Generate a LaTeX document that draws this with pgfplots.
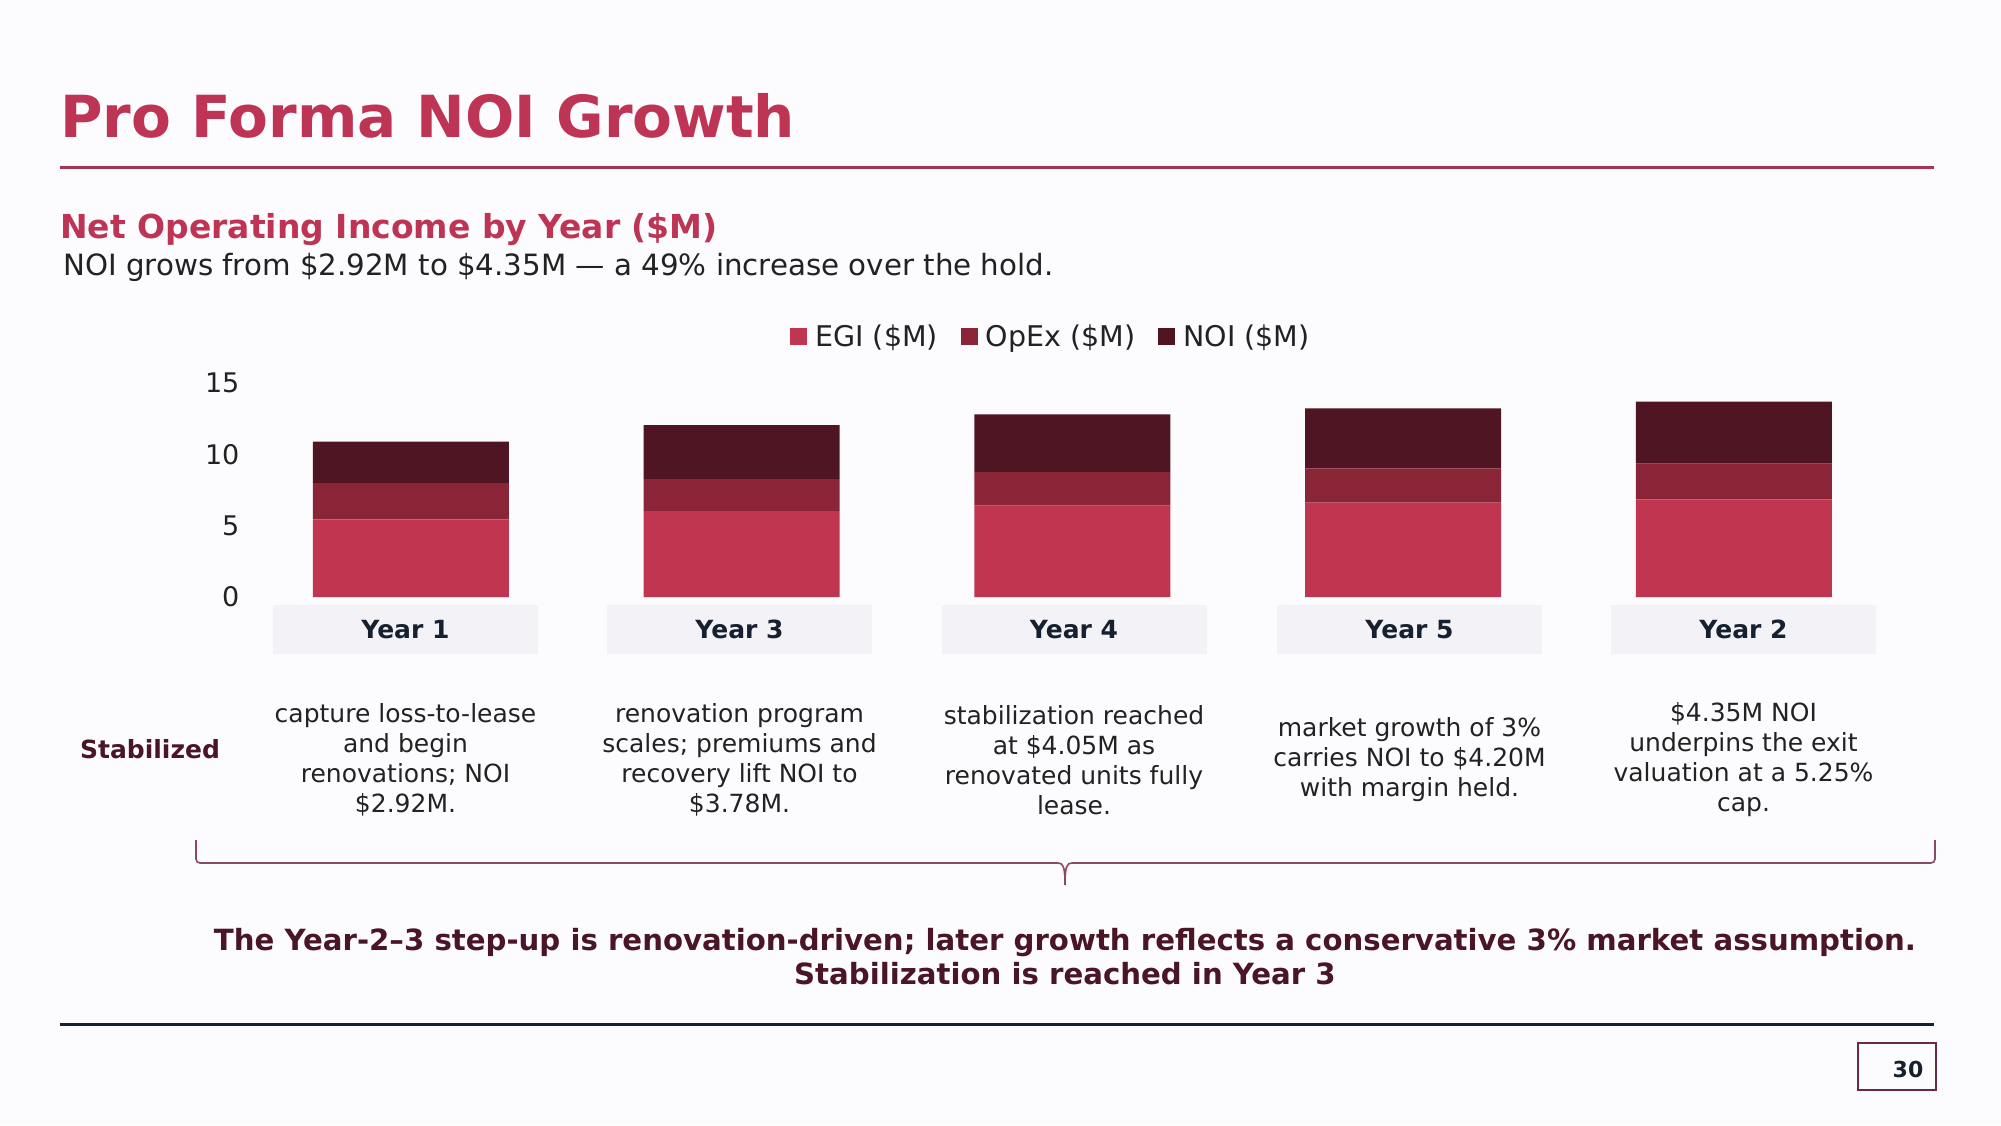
\documentclass[border=0pt]{standalone}
\usepackage{fontspec}
\setmainfont{DejaVu Sans}
\usepackage{pgfplots}
\pgfplotsset{compat=1.18}
\definecolor{bg}{HTML}{FCFBFD}
\definecolor{crim}{HTML}{BE3455}
\definecolor{rulecol}{HTML}{A8344F}
\definecolor{egi}{HTML}{C03550}
\definecolor{opex}{HTML}{8A2538}
\definecolor{noi}{HTML}{501522}
\definecolor{maroon}{HTML}{4A1526}
\definecolor{navy}{HTML}{16202E}
\definecolor{boxfill}{HTML}{F2F2F7}
\definecolor{txt}{HTML}{222222}
\definecolor{bracecol}{HTML}{8C4A62}
\definecolor{pgbox}{HTML}{6B2A40}
\newcommand{\fs}[1]{\fontsize{#1bp}{1.25\dimexpr#1bp\relax}\selectfont}
\begin{document}
\begin{tikzpicture}[x=1bp,y=1bp]
\fill[bg] (0,0) rectangle (2001,-1125);
% title
\node[anchor=base west, inner sep=0pt, text=crim, font=\fs{58}\bfseries] at (60,-137) {Pro Forma NOI Growth};
\fill[rulecol] (60,-166) rectangle (1934,-169);
\node[anchor=base west, inner sep=0pt, text=crim, font=\fs{33}\bfseries] at (60,-238) {Net Operating Income by Year (\$M)};
\node[anchor=base west, inner sep=0pt, text=txt, font=\fs{29.3}] at (63,-275) {NOI grows from \$2.92M to \$4.35M — a 49\% increase over the hold.};
% chart
\begin{axis}[
  at={(245.6bp,-597bp)}, anchor=south west,
  scale only axis, width=1653.75bp, height=214bp,
  xmin=-0.5, xmax=4.5, ymin=0, ymax=15,
  ybar stacked, bar width=196bp,
  axis line style={draw=none}, major tick length=0pt,
  xtick=\empty, ytick={0,5,10,15},
  /pgf/number format/assume math mode=true,
  yticklabel style={font=\fs{27}, text=txt, inner sep=0pt, xshift=-6bp},
  clip=false,
  legend columns=-1,
  legend style={at={(0.4864,1.2196)}, anchor=center, draw=none, fill=none,
    font=\fs{28.5}, text=txt, nodes={inner sep=0pt},
    /tikz/every odd column/.append style={column sep=8bp},
    /tikz/every even column/.append style={column sep=23bp}},
  legend image code/.code={\fill[#1] (0bp,-8.5bp) rectangle (17bp,8.5bp);},
]
\addplot[fill=egi, draw=none] coordinates {(0,5.45) (1,6.02) (2,6.40) (3,6.62) (4,6.85)};
\addplot[fill=opex, draw=none] coordinates {(0,2.53) (1,2.24) (2,2.35) (3,2.40) (4,2.50)};
\addplot[fill=noi, draw=none] coordinates {(0,2.92) (1,3.78) (2,4.05) (3,4.20) (4,4.35)};
\legend{EGI (\$M), OpEx (\$M), NOI (\$M)}
\end{axis}
% category boxes
\foreach \cx/\lab in {405.5/Year 1, 739.5/Year 3, 1074/Year 4, 1409.5/Year 5, 1743.5/Year 2}{
  \fill[boxfill] (\cx-132.5,-605) rectangle (\cx+132.5,-654);
  \node[text=navy, font=\fs{25}\bfseries, inner sep=0pt] at (\cx,-629.5) {\lab};
}
% descriptions
\node[text=maroon, font=\fs{25}\bfseries, inner sep=0pt] at (150,-749) {Stabilized};
\begin{scope}[every node/.style={text=txt, font=\fontsize{25bp}{30bp}\selectfont, align=center, inner sep=0pt}]
\node at (405.5,-760) {capture loss-to-lease\\and begin\\renovations; NOI\\\$2.92M.};
\node at (739.5,-760) {renovation program\\scales; premiums and\\recovery lift NOI to\\\$3.78M.};
\node at (1074,-760) {stabilization reached\\at \$4.05M as\\renovated units fully\\lease.};
\node at (1409.5,-760) {market growth of 3\%\\carries NOI to \$4.20M\\with margin held.};
\node at (1743.5,-760) {\$4.35M NOI\\underpins the exit\\valuation at a 5.25\%\\cap.};
\end{scope}
% brace
\draw[bracecol, line width=1.6bp] (196,-840) -- (196,-859) to[out=-90,in=180] (200,-863) -- (1058,-863)
  .. controls (1063,-863) and (1065,-866) .. (1065,-885)
  .. controls (1065,-866) and (1067,-863) .. (1072,-863) -- (1931,-863) to[out=0,in=-90] (1935,-859) -- (1935,-840);
% conclusion
\node[text=maroon, font=\fontsize{29.2bp}{34bp}\selectfont\bfseries, align=center, inner sep=0pt] at (1065,-957)
  {The Year-2–3 step-up is renovation-driven; later growth reflects a conservative 3\% market assumption.\\Stabilization is reached in Year 3};
% footer
\fill[navy] (60,-1023) rectangle (1934,-1025.5);
\draw[pgbox, line width=1.4bp] (1858,-1043) rectangle (1936,-1090);
\node[text=navy, font=\fs{22}\bfseries, inner sep=0pt] at (1908,-1069) {30};
\end{tikzpicture}
\end{document}
